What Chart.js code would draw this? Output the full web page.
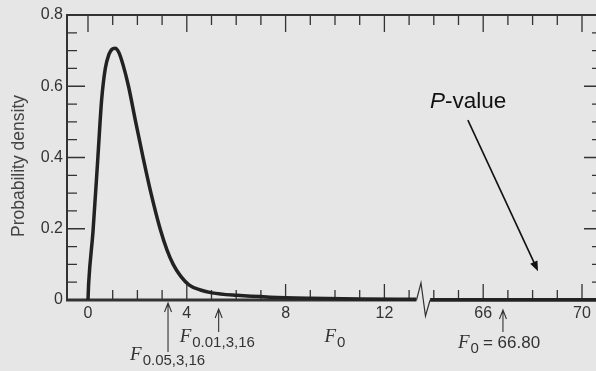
<!DOCTYPE html>
<html lang="en">
<head>
<meta charset="UTF-8">
<title>F distribution and P-value</title>
<script src="https://cdn.jsdelivr.net/npm/chart.js@4"></script>
<style>
  html, body { margin: 0; padding: 0; background: #e6e6e6; overflow: hidden; }
  #wrap { width: 610px; height: 371px; }
</style>
</head>
<body>
<div id="wrap"><canvas id="chart" width="610" height="371"></canvas></div>
<script>
// density curve (F with 3 and 16 df), left of the axis break
const curveX = [0, 0.03, 0.2, 0.4, 0.55, 0.7, 0.85, 0.97, 1.09, 1.25, 1.42, 1.64, 1.93, 2.23, 2.55, 2.92, 3.2, 3.45, 3.75, 4.1, 4.55, 5.02, 6.03, 7.37, 9, 11, 13.3];
const curveY = [0, 0.05, 0.19, 0.4, 0.56, 0.65, 0.69, 0.704, 0.707, 0.695, 0.66, 0.6, 0.5, 0.4, 0.3, 0.2, 0.14, 0.1, 0.067, 0.042, 0.028, 0.02, 0.013, 0.008, 0.005, 0.003, 0.002];
// right of the break the curve lies on the axis
const tailX = [63.85, 66, 68, 70.8];
const tailY = [0.001, 0.001, 0.001, 0.001];

const xTicks = [0, 1, 2, 3, 4, 5, 6, 7, 8, 9, 10, 11, 12, 13, 64, 65, 66, 67, 68, 69, 70];
const xLabels = [0, 4, 8, 12, 66, 70];
const yTicks = [0, 0.05, 0.1, 0.15, 0.2, 0.25, 0.3, 0.35, 0.4, 0.45, 0.5, 0.55, 0.6, 0.65, 0.7, 0.75, 0.8];
const yLabels = [0, 0.2, 0.4, 0.6, 0.8];

const fCrit05 = 3.24;   // F0.05,3,16
const fCrit01 = 5.29;   // F0.01,3,16
const f0 = 66.80;

// broken axis: values above the break are shifted left by 50
const BREAK_LO = 13.3, BREAK_HI = 63.85;
const toU = x => x <= 13.5 ? x : x - 50;
const toX = u => u <= 13.5 ? u : u + 50;

const INK = '#333';
const SANS = '"Liberation Sans", Arial, sans-serif';
const SERIF = '"Liberation Serif", "Times New Roman", serif';

function tickMarks(chart) {
  const { ctx, chartArea: a, scales: { x, y } } = chart;
  ctx.save();
  ctx.strokeStyle = INK;
  ctx.lineWidth = 1.3;
  ctx.beginPath();
  xTicks.forEach(v => {
    const px = x.getPixelForValue(toU(v));
    const major = xLabels.includes(v);
    ctx.moveTo(px, a.bottom); ctx.lineTo(px, a.bottom - (major ? 16 : 10));
    ctx.moveTo(px, a.top); ctx.lineTo(px, a.top + (major ? 17 : 10));
  });
  yTicks.forEach(v => {
    const py = y.getPixelForValue(v);
    const len = yLabels.includes(v) ? 18 : 10;
    ctx.moveTo(a.left, py); ctx.lineTo(a.left + len, py);
    ctx.moveTo(a.right, py); ctx.lineTo(a.right - len, py);
  });
  ctx.stroke();

  ctx.lineWidth = 2;
  ctx.beginPath();
  ctx.moveTo(a.left, a.bottom); ctx.lineTo(a.left, a.top);
  ctx.lineTo(a.right, a.top); ctx.lineTo(a.right, a.bottom);
  ctx.stroke();
  ctx.lineWidth = 3;
  ctx.beginPath();
  ctx.moveTo(a.left - 1, a.bottom); ctx.lineTo(a.right, a.bottom);
  ctx.stroke();
  ctx.restore();
}

function arrowUp(ctx, px, tip, end) {
  ctx.beginPath();
  ctx.moveTo(px, end); ctx.lineTo(px, tip);
  ctx.moveTo(px - 3.5, tip + 9); ctx.lineTo(px, tip); ctx.lineTo(px + 3.5, tip + 9);
  ctx.stroke();
}

function fLabel(ctx, left, base, sub, rest) {
  ctx.font = 'italic 19px ' + SERIF;
  ctx.fillText('F', left, base);
  let px = left + ctx.measureText('F').width + 1;
  ctx.font = '15px ' + SANS;
  ctx.fillText(sub, px, base + 5);
  if (rest) {
    px += ctx.measureText(sub).width + 4;
    ctx.font = '17px ' + SANS;
    ctx.fillText(rest, px, base);
  }
}

function annotations(chart) {
  const { ctx, chartArea: a, scales: { x, y } } = chart;
  ctx.save();

  // axis break
  const b0 = x.getPixelForValue(BREAK_LO), b1 = x.getPixelForValue(toU(BREAK_HI));
  ctx.fillStyle = '#e6e6e6';
  ctx.fillRect(b0, a.bottom - 3, b1 - b0, 6);
  ctx.strokeStyle = INK;
  ctx.lineWidth = 1.2;
  ctx.beginPath();
  ctx.moveTo(b0, y.getPixelForValue(0));
  ctx.lineTo(b0 + (b1 - b0) * 0.33, y.getPixelForValue(0.048));
  ctx.lineTo(b0 + (b1 - b0) * 0.66, y.getPixelForValue(-0.045));
  ctx.lineTo(b1, y.getPixelForValue(0));
  ctx.stroke();

  // critical values and observed F0
  ctx.lineWidth = 1.1;
  ctx.fillStyle = INK;
  ctx.textAlign = 'left';
  ctx.textBaseline = 'alphabetic';
  const p05 = x.getPixelForValue(toU(fCrit05));
  const p01 = x.getPixelForValue(toU(fCrit01));
  const pf0 = x.getPixelForValue(toU(f0));
  arrowUp(ctx, p05, a.bottom + 3, a.bottom + 52);
  arrowUp(ctx, p01, a.bottom + 9, a.bottom + 32);
  arrowUp(ctx, pf0, a.bottom + 10, a.bottom + 32);
  fLabel(ctx, p05 - 38, 360, '0.05,3,16');
  fLabel(ctx, p01 - 39, 342, '0.01,3,16');
  fLabel(ctx, pf0 - 45, 348, '0', '= ' + f0.toFixed(2));
  fLabel(ctx, (a.left + a.right) / 2 - 10, 342, '0');

  // y axis title
  ctx.save();
  ctx.translate(19, 166);
  ctx.rotate(-Math.PI / 2);
  ctx.textAlign = 'center';
  ctx.textBaseline = 'middle';
  ctx.font = '17.5px ' + SANS;
  ctx.fillStyle = '#444';
  ctx.fillText('Probability density', 0, 0);
  ctx.restore();

  // P-value label and arrow
  const tx = x.getPixelForValue(toU(63.85)), ty = y.getPixelForValue(0.539);
  ctx.fillStyle = '#111';
  ctx.font = 'italic 22.5px ' + SANS;
  ctx.fillText('P', tx, ty);
  const pw = ctx.measureText('P').width;
  ctx.font = '22.5px ' + SANS;
  ctx.fillText('-value', tx + pw, ty);

  const sx = x.getPixelForValue(toU(65.38)), sy = y.getPixelForValue(0.505);
  const ex = x.getPixelForValue(toU(68.22)), ey = y.getPixelForValue(0.081);
  const ang = Math.atan2(ey - sy, ex - sx);
  ctx.strokeStyle = '#111';
  ctx.lineWidth = 1.6;
  ctx.beginPath();
  ctx.moveTo(sx, sy);
  ctx.lineTo(ex - 8 * Math.cos(ang), ey - 8 * Math.sin(ang));
  ctx.stroke();
  ctx.beginPath();
  ctx.moveTo(ex, ey);
  ctx.lineTo(ex - 10 * Math.cos(ang) + 4 * Math.sin(ang), ey - 10 * Math.sin(ang) - 4 * Math.cos(ang));
  ctx.lineTo(ex - 10 * Math.cos(ang) - 4 * Math.sin(ang), ey - 10 * Math.sin(ang) + 4 * Math.cos(ang));
  ctx.closePath();
  ctx.fillStyle = '#111';
  ctx.fill();

  ctx.restore();
}

const data = curveX.map((v, i) => ({ x: toU(v), y: curveY[i] }))
  .concat([{ x: 13.6, y: null }])
  .concat(tailX.map((v, i) => ({ x: toU(v), y: tailY[i] })));

new Chart(document.getElementById('chart'), {
  type: 'line',
  data: {
    datasets: [{
      data: data,
      borderColor: '#222',
      borderWidth: 3.5,
      pointRadius: 0,
      cubicInterpolationMode: 'monotone',
      spanGaps: false,
      clip: false
    }]
  },
  options: {
    responsive: false,
    animation: false,
    events: [],
    layout: { padding: { left: 0, top: 15, right: 8, bottom: 0 } },
    plugins: { legend: { display: false }, tooltip: { enabled: false } },
    scales: {
      x: {
        type: 'linear',
        min: -0.85,
        max: toU(70.81),
        afterBuildTicks: s => { s.ticks = xTicks.map(v => ({ value: toU(v) })); },
        afterFit: s => { s.height = 71; },
        grid: { display: false, drawTicks: false },
        border: { display: false },
        ticks: {
          autoSkip: false,
          maxRotation: 0,
          padding: 4,
          color: INK,
          font: { family: SANS, size: 16 },
          callback: v => xLabels.includes(toX(v)) ? String(toX(v)) : ''
        }
      },
      y: {
        min: 0,
        max: 0.8,
        afterBuildTicks: s => { s.ticks = yTicks.map(v => ({ value: v })); },
        afterFit: s => { s.width = 67; },
        grid: { display: false, drawTicks: false },
        border: { display: false },
        ticks: {
          autoSkip: false,
          padding: 4,
          color: INK,
          font: { family: SANS, size: 16 },
          callback: v => yLabels.includes(v) ? String(v) : ''
        }
      }
    }
  },
  plugins: [
    { id: 'ticks', beforeDatasetsDraw: tickMarks },
    { id: 'notes', afterDraw: annotations }
  ]
});
</script>
</body>
</html>
